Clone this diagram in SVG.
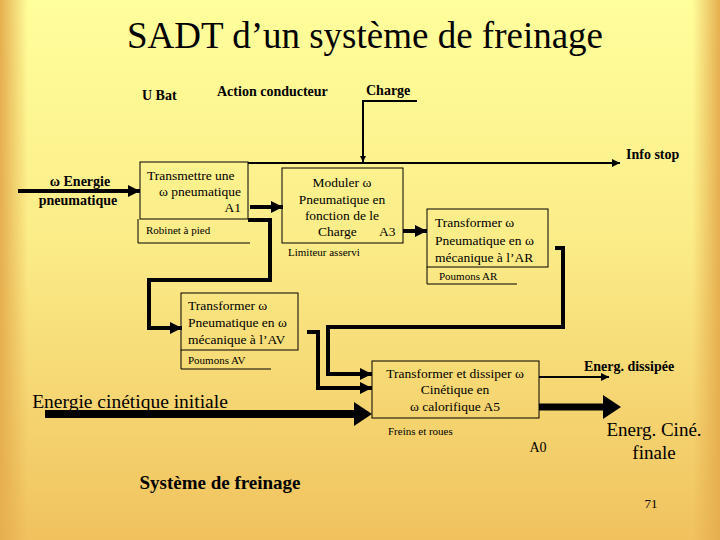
<svg xmlns="http://www.w3.org/2000/svg" width="720" height="540" viewBox="0 0 720 540">
<defs>
<linearGradient id="bgv" x1="0" y1="0" x2="0" y2="1">
<stop offset="0" stop-color="#FFFF9C"/>
<stop offset="0.45" stop-color="#FBEC88"/>
<stop offset="1" stop-color="#F0C25E"/>
</linearGradient>
<linearGradient id="bgl" x1="0" y1="0" x2="1" y2="0">
<stop offset="0" stop-color="#E6AE4E" stop-opacity="1"/>
<stop offset="1" stop-color="#E6AE4E" stop-opacity="0"/>
</linearGradient>
<linearGradient id="bgr" x1="1" y1="0" x2="0" y2="0">
<stop offset="0" stop-color="#E6AE4E" stop-opacity="1"/>
<stop offset="1" stop-color="#E6AE4E" stop-opacity="0"/>
</linearGradient>
<marker id="ah" viewBox="0 0 10 10" refX="10" refY="5" markerWidth="3" markerHeight="3" orient="auto" markerUnits="strokeWidth">
<path d="M0,0 L10,5 L0,10 z" fill="#000"/>
</marker>
<marker id="ahs" viewBox="0 0 10 10" refX="10" refY="5" markerWidth="4" markerHeight="4" orient="auto" markerUnits="strokeWidth">
<path d="M0,0 L10,5 L0,10 z" fill="#000"/>
</marker>
</defs>
<style>
text{font-family:'Liberation Serif','Times New Roman','DejaVu Serif',serif;fill:#000}
.b{font-weight:bold}
.box{fill:none;stroke:#000;stroke-width:1}
.mech{fill:none;stroke:#000;stroke-width:1}
.thin{fill:none;stroke:#000;stroke-width:2}
.thick{fill:none;stroke:#000;stroke-width:4}
.s13{font-size:13.5px}
.s11{font-size:11px}
.s14{font-size:14px}
</style>
<rect x="0" y="0" width="720" height="540" fill="url(#bgv)"/>
<rect x="0" y="0" width="28" height="540" fill="url(#bgl)"/>
<rect x="692" y="0" width="28" height="540" fill="url(#bgr)"/>

<text x="365" y="48" font-size="37" text-anchor="middle">SADT d’un système de freinage</text>

<g id="labels">
<text class="b s14" x="142" y="100">U Bat</text>
<text class="b s14" x="217" y="96">Action conducteur</text>
<text class="b s14" x="366" y="95">Charge</text>
<text class="b s14" x="626" y="159">Info stop</text>
<text class="b s14" x="80" y="186" text-anchor="middle">ω Energie</text>
<text class="b s14" x="78" y="205" text-anchor="middle">pneumatique</text>
<text x="130" y="408" font-size="19.5" text-anchor="middle">Energie cinétique initiale</text>
<text class="b s14" x="629" y="371" text-anchor="middle">Energ. dissipée</text>
<text x="654" y="436" font-size="19" text-anchor="middle">Energ. Ciné.</text>
<text x="654" y="459" font-size="19" text-anchor="middle">finale</text>
<text class="s14" x="538" y="452" text-anchor="middle">A0</text>
<text class="b" x="220" y="489" font-size="19" text-anchor="middle">Système de freinage</text>
<text x="651" y="508" font-size="13" text-anchor="middle">71</text>
</g>

<g id="connectors">
<path class="thin" d="M417,101 H363 V162" marker-end="url(#ah)"/>
<path class="thin" d="M248,163 H620" marker-end="url(#ahs)"/>
<path class="thick" d="M18,191 H140" marker-end="url(#ah)"/>
<path class="thick" d="M250,207 H283" marker-end="url(#ah)"/>
<path class="thick" d="M403,231 H427" marker-end="url(#ah)"/>
<path class="thick" d="M248,220 H270 V280 H149 V328 H182" marker-end="url(#ah)"/>
<path class="thick" d="M555,248 H563 V327 H328 V374 H372" marker-end="url(#ah)"/>
<path class="thick" d="M307,332 H318 V388 H372" marker-end="url(#ah)"/>
<path stroke="#000" stroke-width="8" fill="none" d="M45,414 H356"/>
<path d="M354,402 L372,414 L354,426 z" fill="#000"/>
<path class="thin" d="M539,377 H609" marker-end="url(#ahs)"/>
<path stroke="#000" stroke-width="7" fill="none" d="M539,407 H605"/>
<path d="M603,395 L621,407 L603,419 z" fill="#000"/>
</g>

<g id="A1">
<rect class="box" x="140" y="162" width="108" height="57"/>
<text class="s13" x="147" y="180">Transmettre une</text>
<text class="s13" x="241" y="196" text-anchor="end">ω pneumatique</text>
<text class="s13" x="241" y="212" text-anchor="end">A1</text>
<path class="mech" d="M138,219 V243 H250"/>
<text class="s11" x="146" y="234">Robinet à pied</text>
</g>

<g id="A3">
<rect class="box" x="282" y="168" width="121" height="75"/>
<text class="s13" x="342" y="187" text-anchor="middle">Moduler ω</text>
<text class="s13" x="342" y="204" text-anchor="middle">Pneumatique en</text>
<text class="s13" x="342" y="220" text-anchor="middle">fonction de le</text>
<text class="s13" x="318" y="236">Charge</text>
<text class="s13" x="379" y="236">A3</text>
<text class="s11" x="288" y="256">Limiteur asservi</text>
</g>

<g id="AR">
<rect class="box" x="427" y="209" width="121" height="58"/>
<text class="s13" x="435" y="227">Transformer ω</text>
<text class="s13" x="435" y="245">Pneumatique en ω</text>
<text class="s13" x="435" y="262">mécanique à l’AR</text>
<path class="mech" d="M427,267 V284 H517"/>
<text class="s11" x="439" y="280">Poumons AR</text>
</g>

<g id="AV">
<rect class="box" x="181" y="293" width="117" height="57"/>
<text class="s13" x="188" y="310">Transformer ω</text>
<text class="s13" x="188" y="327">Pneumatique en ω</text>
<text class="s13" x="188" y="344">mécanique à l’AV</text>
<path class="mech" d="M181,350 V369 H271"/>
<text class="s11" x="188" y="364">Poumons AV</text>
</g>

<g id="A5">
<rect class="box" x="372" y="361" width="167" height="57"/>
<text class="s13" x="455" y="378" text-anchor="middle">Transformer et dissiper ω</text>
<text class="s13" x="455" y="394" text-anchor="middle">Cinétique en</text>
<text class="s13" x="455" y="411" text-anchor="middle">ω calorifique  A5</text>
<text class="s11" x="388" y="435">Freins et roues</text>
</g>
</svg>
